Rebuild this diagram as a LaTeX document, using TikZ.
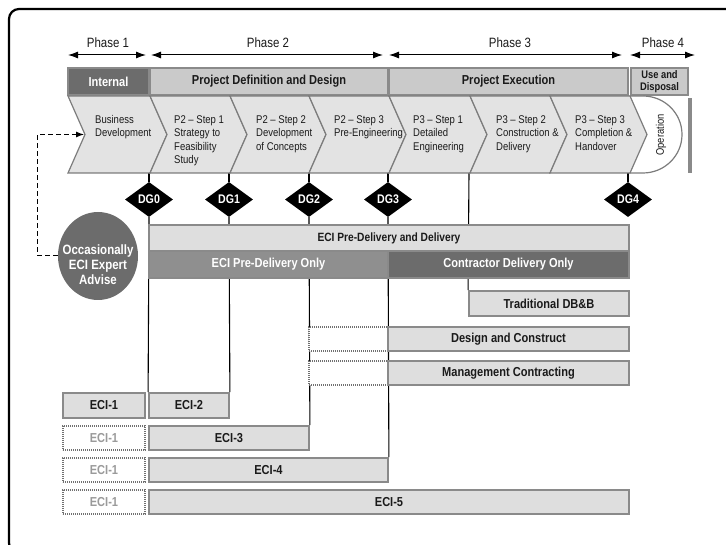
\documentclass[tikz,border=0pt]{standalone}
\usepackage{fontspec}
\setmainfont{Liberation Sans}[FakeStretch=0.85]
\usetikzlibrary{arrows.meta,shapes.geometric,calc}
\definecolor{chev}{HTML}{E3E3E3}
\definecolor{hdr}{HTML}{CACACA}
\definecolor{bord}{HTML}{8A8A8A}
\definecolor{dark}{HTML}{6C6C6C}
\definecolor{midg}{HTML}{8F8F8F}
\definecolor{barf}{HTML}{DEDEDE}
\definecolor{txt}{HTML}{1A1A1A}
\definecolor{dottxt}{HTML}{9A9A9A}
\definecolor{dotln}{HTML}{707070}
\pgfdeclarelayer{bg}
\pgfsetlayers{bg,main}
\begin{document}
\begin{tikzpicture}[x=1pt,y=-1pt,
  pos/.style n args={4}{minimum width={#3-#1}, minimum height={#4-#2}, at={({(#1+#3)/2},{(#2+#4)/2})}},
  bx/.style={draw=bord, line width=1.8pt, fill=barf, inner sep=0pt, text=txt,
    font=\fontsize{13}{15}\selectfont\bfseries},
  dotbx/.style={draw=dotln, line width=1.4pt, dash pattern=on 1.2pt off 0.8pt, fill=white,
    inner sep=0pt, text=dottxt, font=\fontsize{13}{15}\selectfont\bfseries},
  hlight/.style={draw=bord, line width=1.8pt, fill=hdr, inner sep=0pt, text=txt,
    font=\fontsize{13}{15}\selectfont\bfseries},
  hdark/.style={draw=bord, line width=1.8pt, fill=dark, inner sep=0pt, text=white,
    font=\fontsize{13}{15}\selectfont\bfseries},
  chevron/.style={draw=bord!90!black, line width=1.2pt, fill=chev},
  ctext/.style={anchor=north west, inner sep=0pt, align=left, text=txt,
    font=\fontsize{11.2}{13.5}\selectfont},
  phase/.style={inner sep=0pt, text=txt, font=\fontsize{13.5}{15}\selectfont},
  parr/.style={line width=1pt, {Latex[length=10pt,width=7pt]}-{Latex[length=10pt,width=7pt]}},
  dg/.style={diamond, fill=black, text=white, minimum width=48pt, minimum height=35pt,
    inner sep=0pt, font=\fontsize{12.5}{14}\selectfont\bfseries},
  vline/.style={line width=1.1pt, black},
  frame/.style={line width=2.2pt, black, rounded corners=10pt}
]
\useasboundingbox (0,0) rectangle (726,545);

% outer frame
\draw[frame] (30,553) -- (9,553) -- (9,9) -- (740,9);

% phase arrows
\coordinate (p1a) at (68,55);  \coordinate (p1b) at (146,55);
\coordinate (p2a) at (151,55); \coordinate (p2b) at (383,55);
\coordinate (p3a) at (389,55); \coordinate (p3b) at (622,55);
\coordinate (p4a) at (630,55); \coordinate (p4b) at (695,55);
\draw[parr] (p1a) -- (p1b);
\draw[parr] (p2a) -- (p2b);
\draw[parr] (p3a) -- (p3b);
\draw[parr] (p4a) -- (p4b);
\node[phase] (ph1) at (108,43) {Phase 1};
\node[phase] (ph2) at (268,43) {Phase 2};
\node[phase] (ph3) at (510,43) {Phase 3};
\node[phase] (ph4) at (663,43) {Phase 4};

% header
\node[hdark, pos={68}{68}{149}{95}] (hint) {Internal};
\node[hlight, pos={150}{68}{388}{95}] (hdef) {Project Definition and Design};
\node[hlight, pos={389}{68}{628}{95}] (hexe) {Project Execution};
\node[hlight, pos={631}{68}{688}{95}, align=center,
  font=\fontsize{11}{12}\selectfont\bfseries] (huse) {Use and\\Disposal};

% operation shape
\draw[chevron, fill=white] (630,96) -- (643,96)
  .. controls (664.5,96) and (682,113.2) .. (682,134.5)
  .. controls (682,155.8) and (664.5,173) .. (643,173) -- (630,173) -- cycle;
\node[rotate=90, inner sep=0pt, text=txt, font=\fontsize{11}{13}\selectfont] (oper) at (661,135) {Operation};
\fill[bord] (688,98) rectangle (692,173);

% chevrons
\foreach \l/\r in {68/150,150/230,230/309,309/389,389/470,470/550,550/630}{
  \draw[chevron] (\l,96) -- (\r,96) -- (\r+17,134.5) -- (\r,173) -- (\l,173) -- (\l+17,134.5) -- cycle;
}
\coordinate (bdtip) at (84,134.5);
\node[ctext] (c0) at (95,115) {Business\\Development};
\node[ctext] (c1) at (174,115) {P2 – Step 1\\Strategy to\\Feasibility\\Study};
\node[ctext] (c2) at (256,115) {P2 – Step 2\\Development\\of Concepts};
\node[ctext] (c3) at (334,115) {P2 – Step 3\\Pre-Engineering};
\node[ctext] (c4) at (413,115) {P3 – Step 1\\Detailed\\Engineering};
\node[ctext] (c5) at (496,115) {P3 – Step 2\\Construction \&\\Delivery};
\node[ctext] (c6) at (575,115) {P3 – Step 3\\Completion \&\\Handover};

% decision gates
\node[dg] (dg0) at (149,199.5) {DG0};
\node[dg] (dg1) at (229,199.5) {DG1};
\node[dg] (dg2) at (309,199.5) {DG2};
\node[dg] (dg3) at (388,199.5) {DG3};
\node[dg] (dg4) at (628,199.5) {DG4};
\coordinate (g0) at (149,173); \coordinate (g1) at (229,173);
\coordinate (g2) at (309,173); \coordinate (g3) at (388,173);
\coordinate (g4) at (628,173); \coordinate (g5) at (469,173);

% expert circle
\node[ellipse, fill=dark, minimum width=80pt, minimum height=88pt, inner sep=0pt] (occ) at (98,256) {};
\node[align=center, inner sep=0pt, text=white, font=\fontsize{13.5}{15}\selectfont\bfseries]
  (occt) at (98,265) {Occasionally\\ECI Expert\\Advise};
\draw[line width=1pt, dash pattern=on 5pt off 3pt, -{Latex[length=8pt,width=6pt]}]
  (occ.west) -- ++(-20,0) |- (bdtip);

% bars
\node[bx, pos={149}{225}{629}{251}, font=\fontsize{12}{14}\selectfont\bfseries] (eciall) {ECI Pre-Delivery and Delivery};
\node[bx, fill=midg, text=white, pos={149}{251}{388}{278}] (ecipre) {ECI Pre-Delivery Only};
\node[bx, fill=dark, text=white, pos={388}{251}{629}{278}] (contr) {Contractor Delivery Only};
\node[bx, pos={469}{291}{629}{316}] (trad) {Traditional DB\&B};
\node[dotbx, pos={309}{327}{388}{351}] (dcd) {};
\node[bx, pos={388}{327}{629}{351}] (dc) {Design and Construct};
\node[dotbx, pos={309}{361}{388}{385}] (mcd) {};
\node[bx, pos={388}{361}{629}{385}] (mc) {Management Contracting};

\node[bx, pos={63}{393}{145}{418}] (e1a) {ECI-1};
\node[bx, pos={149}{393}{229}{418}] (e2) {ECI-2};
\node[dotbx, pos={63}{426}{145}{450}] (e1b) {ECI-1};
\node[bx, pos={149}{426}{309}{450}] (e3) {ECI-3};
\node[dotbx, pos={63}{458}{145}{482}] (e1c) {ECI-1};
\node[bx, pos={149}{458}{388}{482}] (e4) {ECI-4};
\node[dotbx, pos={63}{490}{145}{514}] (e1d) {ECI-1};
\node[bx, pos={149}{490}{629}{514}] (e5) {ECI-5};

% connector lines behind
\begin{pgfonlayer}{bg}
\draw[vline] (g0) -- (dg0.north);
\draw[vline] (g1) -- (dg1.north);
\draw[vline] (g2) -- (dg2.north);
\draw[vline] (g3) -- (dg3.north);
\draw[vline] (g4) -- (dg4.north);
\draw[vline] (dg0.south) -- (e2.north west);
\draw[vline] (dg1.south) -- (e2.north east);
\draw[vline] (dg2.south) -- (e3.north east);
\draw[vline] (dg3.south) -- (e4.north east);
\draw[vline] (g5) -- (trad.north west);
\end{pgfonlayer}
\end{tikzpicture}
\end{document}
